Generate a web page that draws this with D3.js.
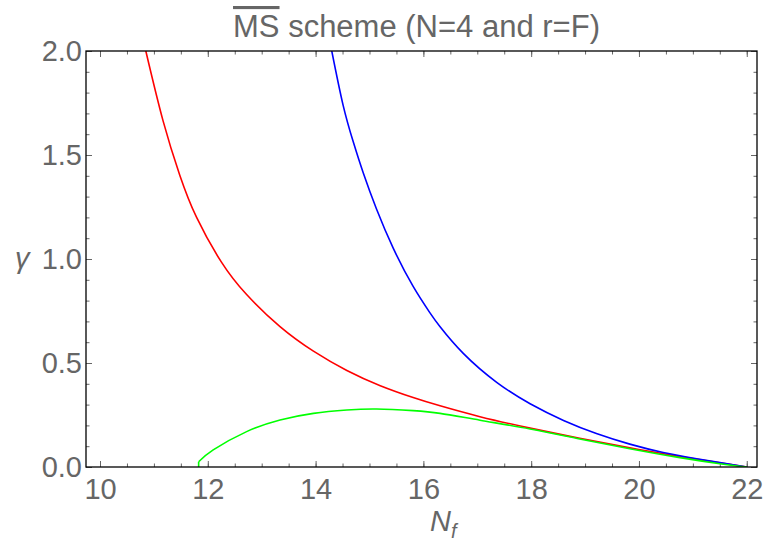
<!DOCTYPE html>
<html>
<head>
<meta charset="utf-8">
<script src="https://cdn.jsdelivr.net/npm/d3@7"></script>
<style>
  body { margin: 0; background: #fff; }
  svg text { font-family: "Liberation Sans", Arial, sans-serif; }
</style>
</head>
<body>
<div id="chart"></div>
<script>
// curves: [N_f, gamma]
const redCurve = [
  [10.85, 2.0], [11.17, 1.664], [11.48, 1.403], [11.79, 1.201], [12.25, 0.986],
  [12.72, 0.829], [13.34, 0.675], [13.96, 0.557], [14.58, 0.464], [15.2, 0.391],
  [15.81, 0.334], [16.31, 0.294], [17.05, 0.242], [17.98, 0.187], [18.9, 0.138],
  [19.83, 0.092], [20.76, 0.050], [21.5, 0.020], [22.0, 0.0]
];
const blueCurve = [
  [14.3, 2.0], [14.51, 1.740], [14.70, 1.562], [14.885, 1.413], [15.13, 1.240],
  [15.44, 1.052], [15.81, 0.868], [16.12, 0.742], [16.31, 0.674], [16.74, 0.546],
  [17.36, 0.407], [17.98, 0.304], [18.6, 0.224], [19.21, 0.161], [19.83, 0.110],
  [20.45, 0.070], [21.07, 0.040], [21.5, 0.021], [22.0, 0.0]
];
const greenCurve = [
  [11.83, 0.0], [11.83, 0.025], [12.1, 0.082], [12.72, 0.170], [13.34, 0.226],
  [13.96, 0.258], [14.58, 0.274], [15.13, 0.279], [15.81, 0.271], [16.31, 0.258],
  [17.05, 0.225], [17.98, 0.183], [18.9, 0.135], [19.83, 0.088], [20.76, 0.045],
  [21.5, 0.016], [22.0, 0.0]
];

const xMajor = [10, 12, 14, 16, 18, 20, 22];
const xMinor = d3.range(10, 22.01, 0.5);
const yMajor = [0, 0.5, 1.0, 1.5, 2.0];
const yMinor = d3.range(0, 2.001, 0.1);

const width = 765;
const height = 549;
const pLeft = 86, pRight = 757, pTop = 51, pBottom = 467;
const grey = '#666666';

const x = d3.scaleLinear().domain([9.74, 22.19]).range([pLeft, pRight]);
const y = d3.scaleLinear().domain([0, 2]).range([pBottom, pTop]);

const svg = d3.select('#chart')
              .append('svg')
              .attr('width', width)
              .attr('height', height);

svg.append('defs').append('clipPath').attr('id', 'plot')
   .append('rect')
   .attr('x', pLeft).attr('y', pTop)
   .attr('width', pRight - pLeft).attr('height', pBottom - pTop);

// ticks (all inside the frame)
function styleAxis(g) {
  g.select('.domain').remove();
  g.selectAll('.tick line').attr('stroke', grey).attr('stroke-width', 1);
  g.selectAll('.tick text')
   .attr('fill', grey)
   .attr('font-size', 29)
   .attr('font-family', '"Liberation Sans", Arial, sans-serif');
}

svg.append('g').attr('transform', `translate(0,${pBottom})`)
   .call(d3.axisBottom(x).tickValues(xMinor).tickSize(-3.5).tickFormat(''))
   .call(styleAxis);
svg.append('g').attr('transform', `translate(0,${pBottom})`)
   .call(d3.axisBottom(x).tickValues(xMajor).tickSize(-6).tickPadding(11).tickFormat(d3.format('d')))
   .call(styleAxis);
svg.append('g').attr('transform', `translate(0,${pTop})`)
   .call(d3.axisTop(x).tickValues(xMinor).tickSize(-3.5).tickFormat(''))
   .call(styleAxis);
svg.append('g').attr('transform', `translate(0,${pTop})`)
   .call(d3.axisTop(x).tickValues(xMajor).tickSize(-6).tickFormat(''))
   .call(styleAxis);

svg.append('g').attr('transform', `translate(${pLeft},0)`)
   .call(d3.axisLeft(y).tickValues(yMinor).tickSize(-3.5).tickFormat(''))
   .call(styleAxis);
svg.append('g').attr('transform', `translate(${pLeft},0)`)
   .call(d3.axisLeft(y).tickValues(yMajor).tickSize(-6).tickPadding(4).tickFormat(d3.format('.1f')))
   .call(styleAxis);
svg.append('g').attr('transform', `translate(${pRight},0)`)
   .call(d3.axisRight(y).tickValues(yMinor).tickSize(-3.5).tickFormat(''))
   .call(styleAxis);
svg.append('g').attr('transform', `translate(${pRight},0)`)
   .call(d3.axisRight(y).tickValues(yMajor).tickSize(-6).tickFormat(''))
   .call(styleAxis);

// curves
const smooth = d3.line()
                 .x(d => x(d[0]))
                 .y(d => y(d[1]))
                 .curve(d3.curveNatural);
const straight = d3.line()
                   .x(d => x(d[0]))
                   .y(d => y(d[1]));

const plot = svg.append('g').attr('clip-path', 'url(#plot)');

const curves = [
  { d: smooth(redCurve), color: '#ff0000' },
  { d: smooth(blueCurve), color: '#0000ff' },
  // green starts with a short vertical step off the axis
  { d: straight(greenCurve.slice(0, 2)), color: '#00ff00' },
  { d: smooth(greenCurve.slice(1)), color: '#00ff00' }
];

plot.selectAll('path')
    .data(curves)
    .join('path')
    .attr('d', c => c.d)
    .attr('fill', 'none')
    .attr('stroke', c => c.color)
    .attr('stroke-width', 1.6);

// frame
svg.append('rect')
   .attr('x', pLeft).attr('y', pTop)
   .attr('width', pRight - pLeft).attr('height', pBottom - pTop)
   .attr('fill', 'none')
   .attr('stroke', '#000')
   .attr('stroke-width', 1.3);

// title with overline on MS
const title = svg.append('text')
                 .attr('x', (pLeft + pRight) / 2 - 5)
                 .attr('y', 37)
                 .attr('text-anchor', 'middle')
                 .attr('fill', grey)
                 .attr('font-size', 31);
title.append('tspan').style('text-decoration', 'overline').text('MS');
title.append('tspan').text(' scheme (N=4 and r=F)');

// axis labels
svg.append('text')
   .attr('x', 15).attr('y', 268)
   .attr('fill', grey)
   .attr('font-size', 29)
   .attr('font-style', 'italic')
   .text('γ');

const xl = svg.append('text')
              .attr('x', 430).attr('y', 531)
              .attr('fill', grey)
              .attr('font-size', 29)
              .attr('font-style', 'italic');
xl.append('tspan').text('N');
xl.append('tspan').attr('font-size', 20).attr('dy', 7).text('f');
</script>
</body>
</html>
